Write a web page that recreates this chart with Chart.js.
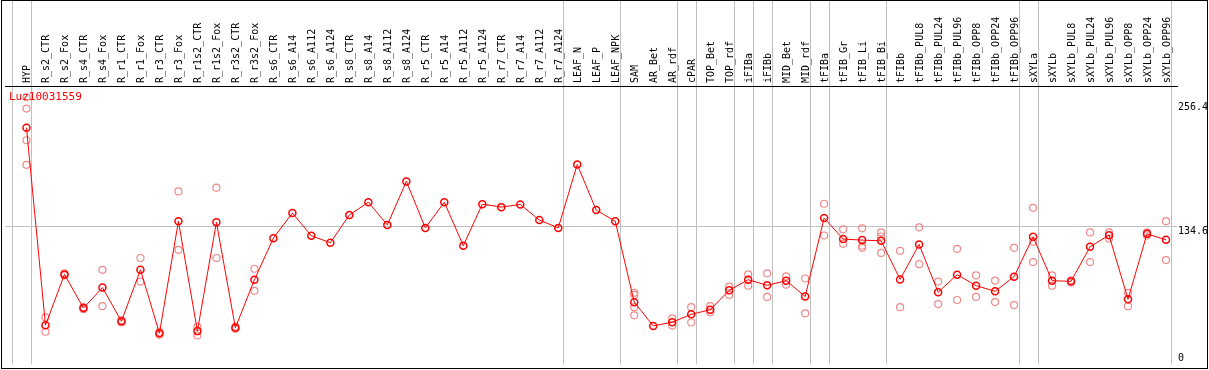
<!DOCTYPE html>
<html>
<head>
<meta charset="UTF-8">
<title>Luz10031559</title>
<script src="https://cdn.jsdelivr.net/npm/chart.js"></script>
<style>
    body { margin: 0; background: #fff; }
    canvas { display: block; }
</style>
</head>
<body>
<canvas id="chart" width="1209" height="370"></canvas>
<script>
const geneName = 'Luz10031559';

const categories = [
    'HYP', 'R_s2_CTR', 'R_s2_Fox', 'R_s4_CTR', 'R_s4_Fox', 'R_r1_CTR', 'R_r1_Fox', 'R_r3_CTR', 'R_r3_Fox',
    'R_r1s2_CTR', 'R_r1s2_Fox', 'R_r3s2_CTR', 'R_r3s2_Fox', 'R_s6_CTR', 'R_s6_A14', 'R_s6_A112', 'R_s6_A124',
    'R_s8_CTR', 'R_s8_A14', 'R_s8_A112', 'R_s8_A124', 'R_r5_CTR', 'R_r5_A14', 'R_r5_A112', 'R_r5_A124',
    'R_r7_CTR', 'R_r7_A14', 'R_r7_A112', 'R_r7_A124', 'LEAF_N', 'LEAF_P', 'LEAF_NPK', 'SAM', 'AR_Bet', 'AR_rdf',
    'cPAR', 'TOP_Bet', 'TOP_rdf', 'iFIBa', 'iFIBb', 'MID_Bet', 'MID_rdf', 'tFIBa', 'tFIB_Gr', 'tFIB_Li', 'tFIB_Bi',
    'tFIBb', 'tFIBb_PUL8', 'tFIBb_PUL24', 'tFIBb_PUL96', 'tFIBb_OPP8', 'tFIBb_OPP24', 'tFIBb_OPP96',
    'sXYLa', 'sXYLb', 'sXYLb_PUL8', 'sXYLb_PUL24', 'sXYLb_PUL96', 'sXYLb_OPP8', 'sXYLb_OPP24', 'sXYLb_OPP96'
];

// mean expression per sample
const means = [
    231.3, 38.4, 88.0, 55.1, 75.1, 42.2, 92.5, 30.6, 139.9, 32.6, 138.9, 35.8, 82.8,
    123.4, 147.9, 125.7, 118.9, 146.0, 158.5, 136.3, 178.8, 133.4, 158.5, 116.0, 156.6,
    153.7, 156.3, 141.1, 133.4, 195.3, 150.8, 139.9, 60.9, 37.7, 41.3, 49.0, 53.5, 72.5,
    82.8, 77.3, 81.9, 66.4, 143.1, 122.5, 121.5, 120.8, 83.1, 117.3, 70.6, 87.7, 77.0,
    71.5, 85.7, 124.7, 81.9, 81.2, 115.0, 126.3, 63.8, 127.6, 121.8
];

// individual replicates per sample (same order as categories)
const replicates = [
    [261, 250, 219, 195], [46, 32], [89, 87], [56, 54], [92.5, 57], [43, 41], [104, 81], [32, 29], [169, 112],
    [36.7, 28.3], [172.7, 104], [37, 35], [93.5, 72], [], [], [], [],
    [], [], [], [], [], [], [], [],
    [], [], [], [], [], [], [], [70, 68, 56, 48], [], [45, 38],
    [56, 41], [57, 51], [76, 68], [88, 77], [89, 66], [86, 78], [84, 50], [157, 126], [132, 118], [133, 116, 114], [129, 125, 109],
    [111, 56], [134, 98], [81, 59], [113, 63], [87, 66], [82, 61], [114, 58],
    [153, 120, 100], [87, 77], [82, 80], [129, 100], [129, 123], [70, 57], [129, 126], [140, 102]
];

// sample index after which a group separator is drawn
const groupEnds = [-1, 0, 28, 31, 34, 35, 37, 38, 39, 41, 42, 45, 52, 53, 60];

const yTicks = [0, 134.6, 256.4];

const meanPoints = means.map((v, i) => ({ x: i, y: v }));
const repPoints = [];
replicates.forEach((reps, i) => reps.forEach(v => repPoints.push({ x: i, y: v })));

const FONT = '"DejaVu Sans Mono", monospace';
const X_MIN = -1.1053;
const X_MAX = 60.5789;

const overlay = {
    id: 'overlay',
    beforeDraw(chart) {
        // group separators, full height (header included)
        const ctx = chart.ctx;
        const x = chart.scales.x;
        ctx.save();
        ctx.strokeStyle = '#c0c0c0';
        ctx.lineWidth = 1;
        groupEnds.forEach(i => {
            const px = Math.round(x.getPixelForValue(i + 0.237)) + 0.5;
            ctx.beginPath();
            ctx.moveTo(px, 0);
            ctx.lineTo(px, chart.chartArea.bottom);
            ctx.stroke();
        });
        ctx.restore();
    },
    afterDraw(chart) {
        const ctx = chart.ctx;
        const y = chart.scales.y;
        const area = chart.chartArea;
        ctx.save();
        // frame
        ctx.strokeStyle = '#000';
        ctx.lineWidth = 1;
        ctx.strokeRect(1.5, 0.5, 1206, 368);
        // value labels on the right
        ctx.fillStyle = '#000';
        ctx.font = '10px ' + FONT;
        ctx.textAlign = 'left';
        yTicks.forEach(v => {
            const py = y.getPixelForValue(v);
            if (py + 10 > area.bottom) {
                ctx.textBaseline = 'bottom';
                ctx.fillText(String(v), area.right + 1, py - 1);
            } else {
                ctx.textBaseline = 'top';
                ctx.fillText(String(v), area.right + 1, py);
            }
        });
        // gene name
        ctx.fillStyle = '#ff0000';
        ctx.textBaseline = 'top';
        ctx.font = '11px ' + FONT;
        ctx.fillText(geneName, 9, area.top + 6);
        ctx.restore();
    }
};

new Chart(document.getElementById('chart'), {
    type: 'scatter',
    data: {
        datasets: [
            {
                label: 'mean',
                type: 'line',
                data: meanPoints,
                borderColor: '#ff0000',
                borderWidth: 1,
                pointStyle: 'circle',
                pointRadius: 3.5,
                pointBorderWidth: 1.5,
                pointBorderColor: '#ff0000',
                pointBackgroundColor: 'rgba(0,0,0,0)',
                tension: 0,
                fill: false,
                order: 1
            },
            {
                label: 'replicates',
                data: repPoints,
                pointStyle: 'circle',
                pointRadius: 3.5,
                pointBorderWidth: 1.2,
                pointBorderColor: '#f08a8a',
                pointBackgroundColor: 'rgba(0,0,0,0)',
                order: 2
            }
        ]
    },
    options: {
        responsive: false,
        animation: false,
        layout: { padding: { left: 1, right: 2, top: 1, bottom: 3 } },
        plugins: {
            legend: { display: false },
            tooltip: { enabled: false }
        },
        scales: {
            x: {
                type: 'linear',
                position: 'top',
                min: X_MIN,
                max: X_MAX,
                afterBuildTicks: scale => {
                    scale.ticks = categories.map((_, i) => ({ value: i }));
                },
                afterFit: scale => { scale.height = 85; },
                grid: { display: false, drawTicks: false },
                border: { display: true, color: '#000', width: 1 },
                ticks: {
                    autoSkip: false,
                    minRotation: 90,
                    maxRotation: 90,
                    padding: 3,
                    labelOffset: 13,
                    color: '#000',
                    font: { family: FONT, size: 10 },
                    callback: v => categories[v] ?? ''
                }
            },
            y: {
                position: 'right',
                min: 0,
                max: 272,
                afterBuildTicks: scale => {
                    scale.ticks = yTicks.map(v => ({ value: v }));
                },
                afterFit: scale => { scale.width = 30; },
                grid: {
                    drawTicks: false,
                    color: c => (c.tick && c.tick.value === 134.6) ? '#c0c0c0' : 'rgba(0,0,0,0)'
                },
                border: { display: false },
                ticks: { display: false }
            }
        }
    },
    plugins: [overlay]
});
</script>
</body>
</html>
